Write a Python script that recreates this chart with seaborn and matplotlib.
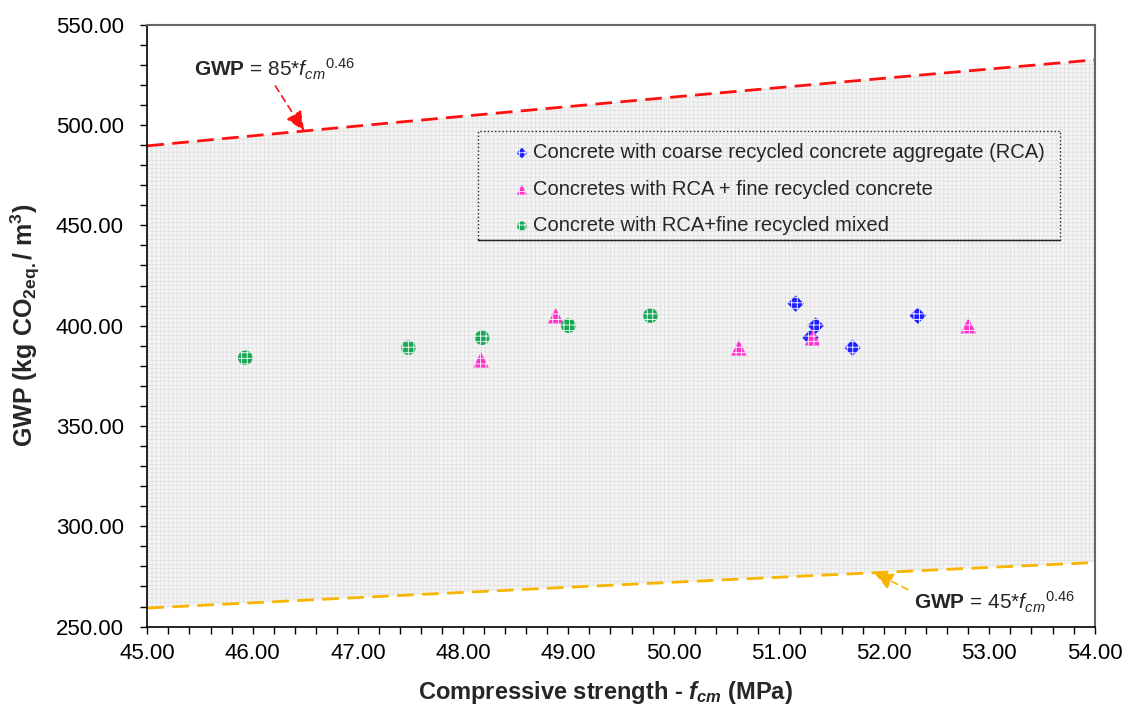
import numpy as np
import seaborn as sns
import matplotlib.pyplot as plt
from matplotlib.patches import Rectangle
from matplotlib.ticker import MultipleLocator, FormatStrFormatter

# data
rca_fcm = [51.16, 51.35, 51.30, 51.70, 52.32]
rca_gwp = [411, 400, 394, 389, 405]
rca_fine_fcm = [48.17, 48.88, 50.62, 51.32, 52.80]
rca_fine_gwp = [383, 405, 389, 394, 400]
rca_mixed_fcm = [45.93, 47.48, 48.18, 49.00, 49.78]
rca_mixed_gwp = [384, 389, 394, 400, 405]

labels = ["Concrete with coarse recycled concrete aggregate (RCA)",
          "Concretes with RCA + fine recycled concrete",
          "Concrete with RCA+fine recycled mixed"]
colors = ["#1f1fff", "#ff33cc", "#19a855"]
markers = ["D", "^", "o"]
tailles = [70, 125, 110]

series = [(rca_fcm, rca_gwp), (rca_fine_fcm, rca_fine_gwp), (rca_mixed_fcm, rca_mixed_gwp)]

sns.set_style("white")
plt.rcParams['font.family'] = ['Liberation Sans', 'DejaVu Sans']
plt.rcParams['mathtext.fontset'] = 'custom'
plt.rcParams['mathtext.rm'] = 'Liberation Sans'
plt.rcParams['mathtext.it'] = 'Liberation Sans:italic'
plt.rcParams['mathtext.bf'] = 'Liberation Sans:bold'
plt.rcParams['mathtext.bfit'] = 'Liberation Sans:bold:italic'
plt.rcParams['hatch.linewidth'] = 0.6

fig, ax = plt.subplots(figsize=(11.25, 7.08), dpi=100)
fig.subplots_adjust(left=0.131, right=0.973, top=0.965, bottom=0.115)

# bornes GWP = k*fcm^0.46
xs = np.linspace(45, 54, 100)
haut = 85 * xs ** 0.46
bas = 45 * xs ** 0.46
ax.fill_between(xs, bas, haut, facecolor="#f5f5f5", edgecolor="#e2e2e2", hatch="++++", linewidth=0, zorder=0)
ax.plot(xs, haut, color="#ff1010", ls=(0, (6, 3)), lw=2, zorder=1)
ax.plot(xs, bas, color="#f7b500", ls=(0, (6, 3)), lw=2, zorder=1)

for (fx, gy), lab, c, m, t in zip(series, labels, colors, markers, tailles):
    sns.scatterplot(x=fx, y=gy, color=c, marker=m, s=t, ax=ax, zorder=3,
                    edgecolor="white", linewidth=0, label=lab)
for coll in ax.collections[1:]:
    coll.set_hatch("+++")
    coll.set_edgecolor("white")
    coll.set_linewidth(0)

ax.set_xlim(45, 54)
ax.set_ylim(250, 550)
ax.xaxis.set_major_locator(MultipleLocator(1))
ax.xaxis.set_minor_locator(MultipleLocator(0.2))
ax.yaxis.set_major_locator(MultipleLocator(50))
ax.yaxis.set_minor_locator(MultipleLocator(10))
ax.xaxis.set_major_formatter(FormatStrFormatter("%.2f"))
ax.yaxis.set_major_formatter(FormatStrFormatter("%.2f"))
ax.tick_params(which="both", direction="out", length=5, width=1, labelsize=16,
               bottom=True, left=True, top=False, right=False, colors="black")
ax.tick_params(axis="x", pad=7)
ax.tick_params(axis="y", pad=12)
for s in ["left", "bottom"]:
    ax.spines[s].set_color("black")
    ax.spines[s].set_linewidth(1.2)
for s in ["top", "right"]:
    ax.spines[s].set_color("#666666")
    ax.spines[s].set_linewidth(1.5)

ax.set_xlabel(r"Compressive strength - $\mathbfit{f}_{\mathbfit{cm}}$ (MPa)", fontsize=17, fontweight="bold")
ax.xaxis.set_label_coords(0.484, -0.087)
ax.set_ylabel(r"GWP (kg CO$_{\mathbf{2eq.}}$/ m$^{\mathbf{3}}$)", fontsize=18, fontweight="bold", labelpad=10)

ax.annotate(r"$\mathbf{GWP}$ = 85*$f_{cm}$$^{0.46}$", xy=(46.49, 497), xytext=(45.44, 528),
            fontsize=15, ha="left", va="center",
            arrowprops=dict(arrowstyle="-|>,head_length=0.8,head_width=0.35", color="#ff1010",
                            ls=(0, (4, 3)), lw=1.2, shrinkA=1, shrinkB=0, relpos=(0.49, 0)))
ax.annotate(r"$\mathbf{GWP}$ = 45*$f_{cm}$$^{0.46}$", xy=(51.9, 277), xytext=(52.28, 262),
            fontsize=15, ha="left", va="center",
            arrowprops=dict(arrowstyle="-|>,head_length=0.8,head_width=0.35", color="#f7b500",
                            ls=(0, (4, 3)), lw=1.2, shrinkA=2, shrinkB=0, relpos=(0, 0.9)))

# cadre de la légende dessiné à part
ax.add_patch(Rectangle((0.349, 0.643), 0.614, 0.181, transform=ax.transAxes,
                       fill=False, edgecolor="#222222", linestyle=":", linewidth=1, zorder=4))
ax.plot([0.349, 0.963], [0.643, 0.643], transform=ax.transAxes, color="#222222", lw=1, zorder=4)

leg = ax.legend(loc="upper left", bbox_to_anchor=(0.386, 0.803), fontsize=14.5,
                frameon=False, markerscale=0.65, handletextpad=0.1, borderpad=0,
                labelspacing=0.87, handlelength=0.88, borderaxespad=0)

plt.savefig("out.png", dpi=100)
